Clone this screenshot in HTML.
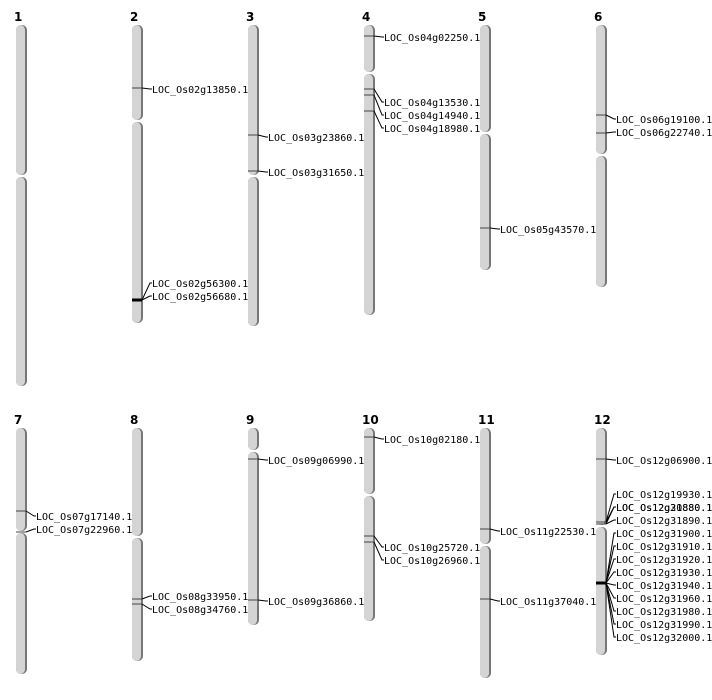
<!DOCTYPE html>
<html><head><meta charset="utf-8"><style>
html,body{margin:0;padding:0;background:#fff;}
svg{display:block;}
text{font-family:"DejaVu Sans Mono","Liberation Mono",monospace;font-size:10px;fill:#000;}
.n{font-family:"DejaVu Sans","Liberation Sans",sans-serif;font-size:12px;font-weight:bold;}
</style></head><body>
<svg id="s" width="712" height="700" xmlns="http://www.w3.org/2000/svg"></svg>
<script>
const s=document.getElementById('s');
const NS='http://www.w3.org/2000/svg';
function el(t,a,txt){const e=document.createElementNS(NS,t);for(const k in a)e.setAttribute(k,a[k]);if(txt)e.textContent=txt;s.appendChild(e);return e;}
const chroms=[
[1,16,25,176,386],[2,132,25,121,323],[3,248,25,176,326],[4,364,25,73,315],[5,480,25,133,270],[6,596,25,155,287],
[7,16,428,532,674],[8,132,428,537,661],[9,248,428,451,625],[10,364,428,495,621],[11,480,428,545,678],[12,596,428,526,655]];
function arm(x,y1,y2){
  el('rect',{x:x,y:y1,width:11,height:y2-y1,rx:5,ry:5,fill:'#777'});
  el('rect',{x:x,y:y1,width:9,height:y2-y1,rx:5,ry:5,fill:'#d4d4d4'});
}
for(const [n,x,t,c,b] of chroms){
  el('text',{x:x-2,y:t-4,class:'n'},String(n));
  arm(x,t,c-1);arm(x,c+1,b);
}
const marks=[
[2,88,[[89,'LOC_Os02g13850.1']]],
[2,300,[[283,'LOC_Os02g56300.1'],[296,'LOC_Os02g56680.1']],3],
[3,135,[[137,'LOC_Os03g23860.1']]],
[3,171,[[172,'LOC_Os03g31650.1']]],
[4,36,[[37,'LOC_Os04g02250.1']]],
[4,89,[[102,'LOC_Os04g13530.1']]],
[4,95,[[115,'LOC_Os04g14940.1']]],
[4,111,[[128,'LOC_Os04g18980.1']]],
[5,228,[[229,'LOC_Os05g43570.1']]],
[6,115,[[119,'LOC_Os06g19100.1']]],
[6,133,[[132,'LOC_Os06g22740.1']]],
[7,511,[[516,'LOC_Os07g17140.1']]],
[7,532,[[529,'LOC_Os07g22960.1']]],
[8,599,[[596,'LOC_Os08g33950.1']]],
[8,604,[[609,'LOC_Os08g34760.1']]],
[9,459,[[460,'LOC_Os09g06990.1']]],
[9,600,[[601,'LOC_Os09g36860.1']]],
[10,437,[[439,'LOC_Os10g02180.1']]],
[10,536,[[547,'LOC_Os10g25720.1']]],
[10,542,[[560,'LOC_Os10g26960.1']]],
[11,529,[[531,'LOC_Os11g22530.1']]],
[11,599,[[601,'LOC_Os11g37040.1']]],
[12,459,[[460,'LOC_Os12g06900.1']]],
[12,522,[[494,'LOC_Os12g19930.1'],[507,'LOC_Os12g20880.1']]],
[12,524,[[507,'LOC_Os12g31880.1'],[520,'LOC_Os12g31890.1']]],
[12,583,[[533,'LOC_Os12g31900.1'],[546,'LOC_Os12g31910.1'],[559,'LOC_Os12g31920.1'],[572,'LOC_Os12g31930.1'],[585,'LOC_Os12g31940.1'],[598,'LOC_Os12g31960.1'],[611,'LOC_Os12g31980.1'],[624,'LOC_Os12g31990.1'],[637,'LOC_Os12g32000.1']],3]
];
for(const [n,y,labs,w] of marks){
  const x=chroms[n-1][1];
  el('line',{x1:x,y1:y,x2:x+10,y2:y,stroke:(w?'#000':'#444'),'stroke-width':w||1});
  for(const [ly,txt] of labs){
    el('polyline',{points:`${x+10},${y} ${x+18},${ly} ${x+20},${ly}`,fill:'none',stroke:'#000','stroke-width':1});
    el('text',{x:x+20,y:ly+4},txt);
  }
}
</script>
</body></html>
